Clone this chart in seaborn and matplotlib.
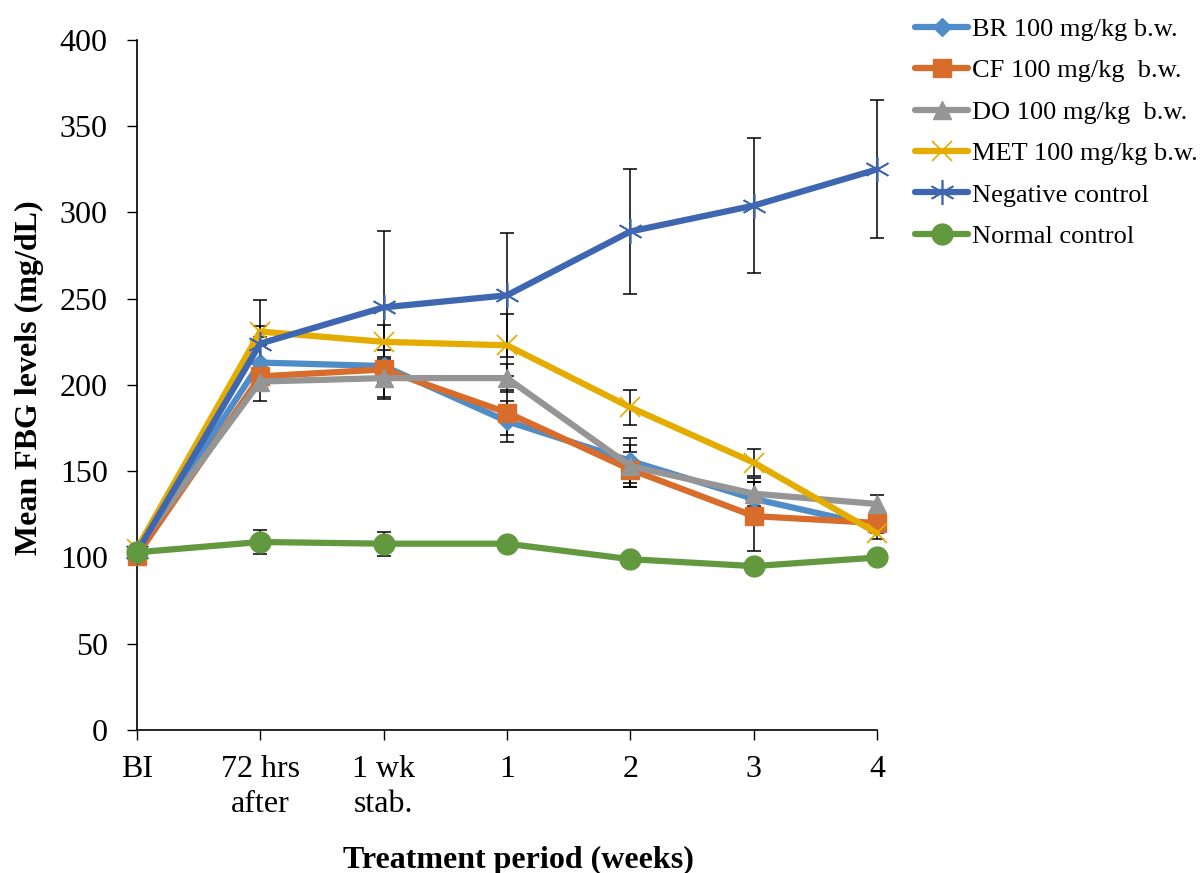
import matplotlib
matplotlib.use("Agg")
import matplotlib.pyplot as plt
import seaborn as sns
import numpy as np

categories = ["BI", "72 hrs\nafter", "1 wk\nstab.", "1", "2", "3", "4"]
series_names = ["BR 100 mg/kg b.w.", "CF 100 mg/kg  b.w.", "DO 100 mg/kg  b.w.",
                "MET 100 mg/kg b.w.", "Negative control", "Normal control"]
br = [104, 213, 211, 179, 156, 134, 118]
cf = [101, 205, 209, 184, 151, 124, 120]
do = [105, 202, 204, 204, 153, 137, 131]
met = [105, 231, 225, 223, 187, 155, 114]
neg = [103, 224, 245, 252, 289, 304, 325]
normal = [103, 109, 108, 108, 99, 95, 100]
br_err = [2, 10, 9, 12, 13, 12, 4]
cf_err = [2, 8, 16, 13, 10, 20, 3]
do_err = [2, 11, 12, 8, 12, 7, 5]
met_err = [2, 3, 10, 18, 10, 8, 3]
neg_err = [3, 25, 44, 36, 36, 39, 40]
normal_err = [2, 7, 7, 3, 2, 2, 2]

values = [br, cf, do, met, neg, normal]
errors = [br_err, cf_err, do_err, met_err, neg_err, normal_err]
colors = ["#4F8DC9", "#D86C2A", "#959595", "#E5AC00", "#3F66B1", "#62993E"]
markers = ["D", "s", "^", "x", (6, 2, 0), "o"]
msizes = [9, 13, 13, 14, 18, 15]
mews = [1, 1, 1, 1.2, 1.2, 1]

sns.set_theme(style="white")
plt.rcParams['font.family'] = ['Liberation Serif', 'DejaVu Serif']
plt.rcParams['text.color'] = 'black'
plt.rcParams['axes.labelcolor'] = 'black'
plt.rcParams['xtick.color'] = 'black'
plt.rcParams['ytick.color'] = 'black'

fig = plt.figure(figsize=(12, 8.73), dpi=100)
ax = fig.add_axes([0.114, 0.1638, 0.617, 0.7904])

xpos = np.arange(len(categories))
for name, v, e in zip(series_names, values, errors):
    eb = ax.errorbar(xpos, v, yerr=e, fmt="none", ecolor="black", elinewidth=1.1,
                     capsize=5, capthick=1.1, zorder=2)
    for art in eb.lines[1] + eb.lines[2]:
        art.set_clip_on(False)
for name, v, c, m, ms, mw in zip(series_names, values, colors, markers, msizes, mews):
    sns.lineplot(x=xpos, y=v, ax=ax, color=c, marker=m, markersize=ms,
                 markeredgewidth=mw, markeredgecolor=c, linewidth=4.5,
                 label=name, zorder=3, legend=True, clip_on=False)

ax.set_xlim(0, 6)
ax.set_ylim(0, 400)
ax.set_xticks(xpos)
ax.set_xticklabels(categories, fontsize=23, linespacing=1.25)
ax.set_yticks(np.arange(0, 401, 50))
ax.tick_params(axis="y", labelsize=23, direction="out", length=7, width=1, left=True, pad=14)
ax.tick_params(axis="x", labelsize=23, direction="out", length=7, width=1, bottom=True, pad=11)
for s in ["top", "right"]:
    ax.spines[s].set_visible(False)
for s in ["left", "bottom"]:
    ax.spines[s].set_color("black")
    ax.spines[s].set_linewidth(1.2)
ax.grid(False)

ax.set_xlabel("Treatment period (weeks)", fontsize=23, fontweight="bold")
ax.set_ylabel("Mean FBG levels (mg/dL)", fontsize=23, fontweight="bold")
ax.xaxis.set_label_coords(0.515, -0.168)
ax.yaxis.set_label_coords(-0.126, 0.51)

handles, labels = ax.get_legend_handles_labels()
ax.get_legend().remove()
fig.legend(handles, labels, loc="upper left", bbox_to_anchor=(0.754, 0.992),
           frameon=False, fontsize=19, handlelength=2.0, handletextpad=0.15,
           labelspacing=0.68, borderaxespad=0)

fig.savefig("out.png", dpi=100)
